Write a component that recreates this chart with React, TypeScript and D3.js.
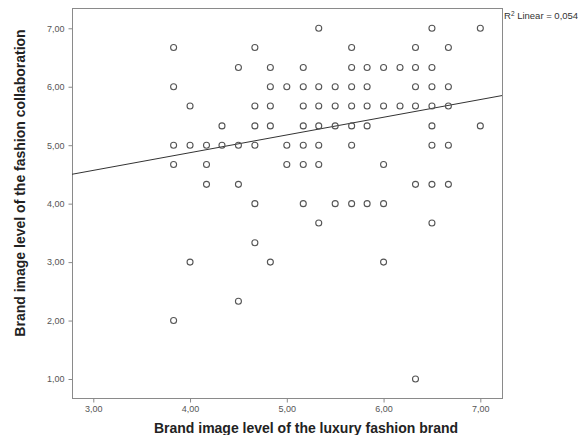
import React, { useEffect, useRef } from 'react';
import * as d3 from 'd3';

// observed pairs [luxury brand image, collaboration image]
const points: [number, number][] = [
	[5.33, 7.0], [6.5, 7.0], [7.0, 7.0],
	[3.83, 6.67], [4.67, 6.67], [5.67, 6.67], [6.33, 6.67], [6.67, 6.67],
	[4.5, 6.33], [4.83, 6.33], [5.17, 6.33], [5.67, 6.33], [5.83, 6.33], [6.0, 6.33], [6.17, 6.33], [6.33, 6.33], [6.5, 6.33],
	[3.83, 6.0], [4.83, 6.0], [5.0, 6.0], [5.17, 6.0], [5.33, 6.0], [5.5, 6.0], [5.67, 6.0], [5.83, 6.0], [6.33, 6.0], [6.5, 6.0], [6.67, 6.0],
	[4.0, 5.67], [4.67, 5.67], [4.83, 5.67], [5.17, 5.67], [5.33, 5.67], [5.5, 5.67], [5.67, 5.67], [5.83, 5.67], [6.0, 5.67], [6.17, 5.67], [6.33, 5.67], [6.5, 5.67], [6.67, 5.67],
	[4.33, 5.33], [4.67, 5.33], [4.83, 5.33], [5.17, 5.33], [5.33, 5.33], [5.5, 5.33], [5.67, 5.33], [5.83, 5.33], [6.5, 5.33], [7.0, 5.33],
	[3.83, 5.0], [4.0, 5.0], [4.17, 5.0], [4.33, 5.0], [4.5, 5.0], [4.67, 5.0], [5.0, 5.0], [5.17, 5.0], [5.33, 5.0], [5.67, 5.0], [6.5, 5.0], [6.67, 5.0],
	[3.83, 4.67], [4.17, 4.67], [5.0, 4.67], [5.17, 4.67], [5.33, 4.67], [6.0, 4.67],
	[4.17, 4.33], [4.5, 4.33], [6.33, 4.33], [6.5, 4.33], [6.67, 4.33],
	[4.67, 4.0], [5.17, 4.0], [5.5, 4.0], [5.67, 4.0], [5.83, 4.0], [6.0, 4.0],
	[5.33, 3.67], [6.5, 3.67],
	[4.67, 3.33],
	[4.0, 3.0], [4.83, 3.0], [6.0, 3.0],
	[4.5, 2.33],
	[3.83, 2.0],
	[6.33, 1.0],
];

const xTicks = [3, 4, 5, 6, 7];
const yTicks = [1, 2, 3, 4, 5, 6, 7];
const fitIntercept = 3.66;
const fitSlope = 0.303;
const rSquared = '0,054';

const xTitle = 'Brand image level of the luxury fashion brand';
const yTitle = 'Brand image level of the fashion collaboration';

const width = 578;
const height = 435;
const margin = { left: 72, top: 8, right: 76, bottom: 37 };

const fmt = (v: number) => v.toFixed(2).replace('.', ',');

export default function App() {
	const ref = useRef<SVGSVGElement>(null);

	useEffect(() => {
		const svg = d3.select(ref.current);
		svg.selectAll('*').remove();

		const x0 = margin.left;
		const x1 = width - margin.right;
		const y0 = height - margin.bottom;
		const y1 = margin.top;

		const xScale = d3.scaleLinear().domain([2.78, 7.224]).range([x0, x1]);
		const yScale = d3.scaleLinear().domain([0.675, 7.347]).range([y0, y1]);

		// frame
		svg.append('rect')
			.attr('x', x0 + 0.5)
			.attr('y', y1 + 0.5)
			.attr('width', x1 - x0)
			.attr('height', y0 - y1)
			.attr('fill', 'none')
			.attr('stroke', '#8a8a8a')
			.attr('stroke-width', 1);

		const xAxis = d3
			.axisBottom(xScale)
			.tickValues(xTicks)
			.tickFormat(d => fmt(d as number))
			.tickSize(4)
			.tickPadding(3);
		const yAxis = d3
			.axisLeft(yScale)
			.tickValues(yTicks)
			.tickFormat(d => fmt(d as number))
			.tickSize(4)
			.tickPadding(4);

		const gx = svg.append('g').attr('transform', `translate(0,${y0 + 0.5})`).call(xAxis);
		const gy = svg.append('g').attr('transform', `translate(${x0 + 0.5},0)`).call(yAxis);
		[gx, gy].forEach(g => {
			g.select('.domain').remove();
			g.selectAll('line').attr('stroke', '#8a8a8a');
			g.selectAll('text')
				.attr('fill', '#555')
				.style('font-family', '"Liberation Sans Narrow", "Liberation Sans", Arial, sans-serif')
				.style('font-size', '9px');
		});

		// fit line
		svg.append('line')
			.attr('x1', xScale(2.78))
			.attr('y1', yScale(fitIntercept + fitSlope * 2.78))
			.attr('x2', xScale(7.224))
			.attr('y2', yScale(fitIntercept + fitSlope * 7.224))
			.attr('stroke', '#333')
			.attr('stroke-width', 1);

		svg.selectAll('circle.pt')
			.data(points)
			.enter()
			.append('circle')
			.attr('class', 'pt')
			.attr('cx', d => xScale(d[0]))
			.attr('cy', d => yScale(d[1]))
			.attr('r', 3)
			.attr('fill', 'none')
			.attr('stroke', '#555')
			.attr('stroke-width', 1.1);

		// R2 label
		const r2 = svg.append('text')
			.attr('x', x1 + 2)
			.attr('y', 19)
			.style('font-family', '"Liberation Sans", Arial, sans-serif')
			.style('font-size', '9.5px')
			.attr('fill', '#333');
		r2.append('tspan').text('R');
		r2.append('tspan').attr('dy', -3.5).style('font-size', '6.5px').text('2');
		r2.append('tspan').attr('dy', 3.5).text(` Linear = ${rSquared}`);

		svg.append('text')
			.attr('x', 306)
			.attr('y', 433)
			.style('text-anchor', 'middle')
			.style('font-family', '"Liberation Sans", Arial, sans-serif')
			.style('font-weight', 'bold')
			.style('font-size', '14px')
			.attr('fill', '#222')
			.text(xTitle);

		svg.append('text')
			.attr('transform', `translate(25,183) rotate(-90)`)
			.style('text-anchor', 'middle')
			.style('font-family', '"Liberation Sans", Arial, sans-serif')
			.style('font-weight', 'bold')
			.style('font-size', '14px')
			.attr('fill', '#222')
			.text(yTitle);
	}, []);

	return (
		<div style={{ position: 'absolute', left: 0, top: 0 }}>
			<svg ref={ref} width={width} height={height} style={{ display: 'block', background: '#fff' }} />
		</div>
	);
}
